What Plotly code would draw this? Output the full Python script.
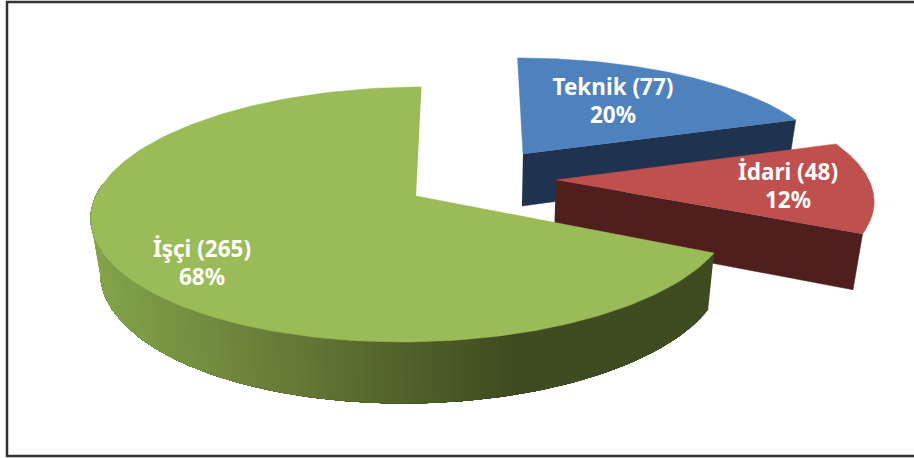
import numpy as np
import plotly.graph_objects as go

categories = ["Teknik", "İdari", "İşçi"]
counts = [77, 48, 265]
percents = [20, 12, 68]

top_colors = ["#4f81bd", "#c0504d", "#9bbb59"]
wall_colors = ["#1f3350", "#4f1f1d", "#3f4b20"]

# pixel layout of the exploded slices, the axes run in page pixels
apex_x = [523, 556, 416]
apex_y = [154, 180, 196]
center_x = [523, 556, 413]
radius_x = [304, 313, 317]
radius_y = [110, 118, 124.8]
label_x = [613, 788, 202]
label_y = [89, 174, 251]
LINE_GAP = 28

VANISH_X = 480
TILT = 0.145
DEPTH_SCALE = 0.975
WIDTH, HEIGHT = 914, 459


def project(i, theta):
    u, v = np.cos(theta), np.sin(theta)
    d = 1 + TILT * v
    x = VANISH_X + (center_x[i] - VANISH_X + radius_x[i] * u) / d
    y = apex_y[i] - radius_y[i] * v / d
    return x, y


def drop(x, y):
    # same outline one plane lower, a bit smaller because it is further away
    return VANISH_X + (x - VANISH_X) * DEPTH_SCALE, y + 44.6 + 0.048 * y


def poly(fig, x, y, color):
    fig.add_trace(go.Scatter(
        x=list(x), y=list(y), mode="lines", fill="toself", fillcolor=color,
        line=dict(color=color, width=0.5), hoverinfo="skip", showlegend=False))


def mix(a, b, t):
    return "rgb(%d,%d,%d)" % tuple(a[k] + (b[k] - a[k]) * t for k in range(3))


fig = go.Figure()

total = sum(counts)
start = np.pi / 2
for i, count in enumerate(counts):
    end = start - 2 * np.pi * count / total
    thetas = np.linspace(start, end, 160)
    ax, ay = apex_x[i], apex_y[i]
    x_top, y_top = project(i, thetas)
    x_low, y_low = drop(x_top, y_top)
    ax_low, ay_low = drop(ax, ay)

    if i == 2:
        # curved side of the big slice, each strip runs on to the left end
        # of the arc and the next one paints over it, so no seams show
        front = np.where(np.sin(thetas) < 0.12)[0]
        for k in front[:-1]:
            t = np.clip((x_top[k] - 90) / 430, 0, 1)
            poly(fig,
                 np.r_[x_top[k:front[-1] + 1], x_low[k:front[-1] + 1][::-1]],
                 np.r_[y_top[k:front[-1] + 1], y_low[k:front[-1] + 1][::-1]],
                 mix((134, 165, 75), (63, 75, 32), t))
    else:
        # only the cut face toward the viewer shows on the two small slices
        poly(fig, [ax, x_top[-1], x_low[-1], ax_low], [ay, y_top[-1], y_low[-1], ay_low], wall_colors[i])

    poly(fig, np.r_[ax, x_top], np.r_[ay, y_top], top_colors[i])
    start = end

text_x, text_y, text = [], [], []
for i in range(3):
    text_x += [label_x[i], label_x[i]]
    text_y += [label_y[i], label_y[i] + LINE_GAP]
    text += [f"{categories[i]} ({counts[i]})", f"{percents[i]}%"]

fig.add_trace(go.Scatter(
    x=text_x, y=text_y, text=text, mode="text", textposition="middle center",
    textfont=dict(family="Noto Sans", size=22.5, color="white", weight="bold"),
    hoverinfo="skip", showlegend=False))

fig.add_shape(type="rect", x0=7, y0=2, x1=920, y1=456,
              line=dict(color="#333333", width=2.5))

fig.update_xaxes(range=[0, WIDTH], visible=False)
fig.update_yaxes(range=[HEIGHT, 0], visible=False)
fig.update_layout(width=WIDTH, height=HEIGHT, margin=dict(l=0, r=0, t=0, b=0),
                  paper_bgcolor="white", plot_bgcolor="white")

# page body has a default margin that would push the plot off the window
fig.write_html("out.html", config=dict(displayModeBar=False),
               post_script="document.body.style.margin='0';document.body.style.overflow='hidden';")
